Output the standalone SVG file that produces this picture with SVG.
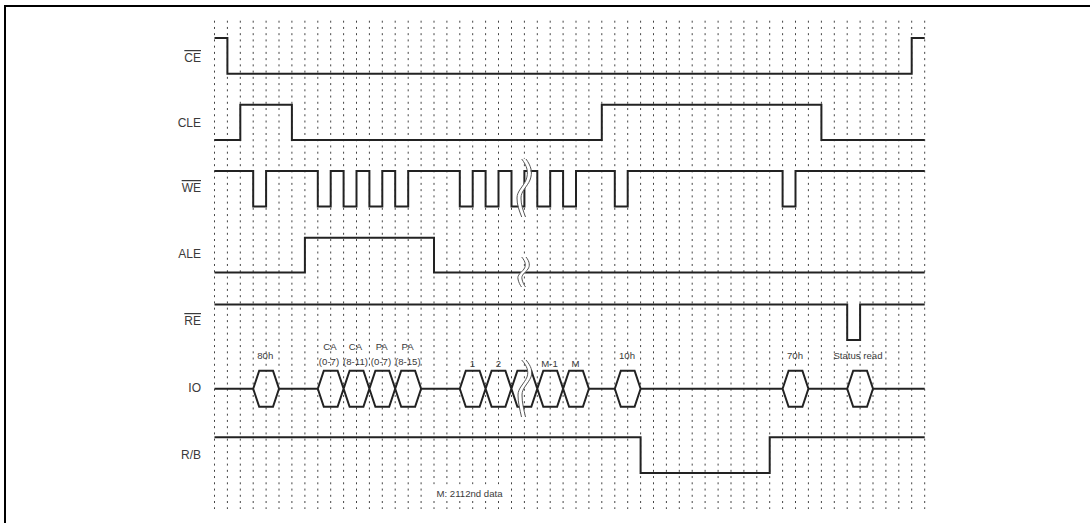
<svg xmlns="http://www.w3.org/2000/svg" width="1090" height="523" viewBox="0 0 1090 523">
<style>
text{font-family:"Liberation Sans",Arial,sans-serif;fill:#3a3a3a}
.l{font-size:12px;text-anchor:end}
.s{font-size:9.6px;text-anchor:middle}
.o{text-decoration:overline}
.sig{fill:none;stroke:#222;stroke-width:2}
.grid{stroke:#444;stroke-width:1;stroke-dasharray:2 4.238;stroke-dashoffset:0}
.brk{fill:none;stroke:#555;stroke-width:1}
.brkw{fill:none;stroke:#fff;stroke-width:3.5}
</style>
<rect width="1090" height="523" fill="#fff"/>
<rect x="5" y="6" width="1090" height="530" fill="none" stroke="#000" stroke-width="2"/>
<g id="grid" class="grid"><path d="M214.5 20.7V509M227.4 20.7V509M240.3 20.7V509M253.2 20.7V509M266.1 20.7V509M279 20.7V509M291.9 20.7V509M304.9 20.7V509M317.8 20.7V509M330.7 20.7V509M343.6 20.7V509M356.5 20.7V509M369.4 20.7V509M382.3 20.7V509M395.2 20.7V509M408.2 20.7V509M421.1 20.7V509M434 20.7V509M446.9 20.7V509M459.8 20.7V509M472.7 20.7V509M485.6 20.7V509M498.5 20.7V509M511.5 20.7V509M524.4 20.7V509M537.3 20.7V509M550.2 20.7V509M563.1 20.7V509M576 20.7V509M588.9 20.7V509M601.8 20.7V509M614.8 20.7V509M627.7 20.7V509M640.6 20.7V509M653.5 20.7V509M666.4 20.7V509M679.3 20.7V509M692.2 20.7V509M705.1 20.7V509M718.1 20.7V509M731 20.7V509M743.9 20.7V509M756.8 20.7V509M769.7 20.7V509M782.6 20.7V509M795.5 20.7V509M808.4 20.7V509M821.4 20.7V509M834.3 20.7V509M847.2 20.7V509M860.1 20.7V509M873 20.7V509M885.9 20.7V509M898.8 20.7V509M911.7 20.7V509M924.7 20.7V509"/></g>
<g id="connectors">
<path id="sig-ce" class="sig" d="M214.5 38H227.4V73.7H911.7V38H924.7"/>
<path id="sig-cle" class="sig" d="M214.5 140H240.3V104.7H291.9V140H601.8V104.7H821.4V140H924.7"/>
<path id="sig-we" class="sig" d="M214.5 171H253.2V206.5H266.1V171H317.8V206.5H330.7V171H343.6V206.5H356.5V171H369.4V206.5H382.3V171H395.2V206.5H408.2V171H459.8V206.5H472.7V171H485.6V206.5H498.5V171H511.5V206.5H524.4V171H537.3V206.5H550.2V171H563.1V206.5H576V171H614.8V206.5H627.7V171H782.6V206.5H795.5V171H924.7"/>
<path id="sig-ale" class="sig" d="M214.5 272.5H304.9V237.7H434V272.5H924.7"/>
<path id="sig-re" class="sig" d="M214.5 304.5H847.2V340H860.1V304.5H924.7"/>
<path id="sig-io" class="sig" d="M214.5 388.7H253.2L259.2 370.7H273L279 388.7L273 406.7H259.2L253.2 388.7M279 388.7H317.8L323.8 370.7H337.6L349.6 406.7H363.4L375.4 370.7H389.2L401.2 406.7H415.1L421.1 388.7L415.1 370.7H401.2L389.2 406.7H375.4L363.4 370.7H349.6L337.6 406.7H323.8L317.8 388.7M421.1 388.7H459.8L465.8 370.7H479.6L491.6 406.7H505.4L517.4 370.7H531.3L543.3 406.7H557.1L569.1 370.7H582.9L588.9 388.7L582.9 406.7H569.1L557.1 370.7H543.3L531.3 406.7H517.4L505.4 370.7H491.6L479.6 406.7H465.8L459.8 388.7M588.9 388.7H614.8L620.8 370.7H634.6L640.6 388.7L634.6 406.7H620.8L614.8 388.7M640.6 388.7H782.6L788.6 370.7H802.4L808.4 388.7L802.4 406.7H788.6L782.6 388.7M808.4 388.7H847.2L853.2 370.7H867L873 388.7L867 406.7H853.2L847.2 388.7M873 388.7H924.7"/>
<path id="sig-rb" class="sig" d="M214.5 437.3H640.6V473H769.7V437.3H924.7"/>
<g id="break-we"><path class="brkw" d="M524 159C529 166 531 172 528 180C525 187 519 191 519 198C519 205 521 210 523.5 217"/><path class="brk" d="M521.7 159C527 166 529 172 526 180C523 187 517 191 517 198C517 205 519 210 521.7 217"/><path class="brk" d="M526 159C531 166 533 172 530 180C527 187 521 191 521 198C521 205 523 210 525.5 217"/></g>
<g id="break-ale"><path class="brkw" d="M524 257C528 262 528 266 526 269C523 273 519 275 520 279C520.5 282 522 285 523.5 287"/><path class="brk" d="M521.7 257C526 262 526 266 524 269C521 273 517 275 518 279C518.5 282 520 285 521.5 287"/><path class="brk" d="M526 257C530 262 530 266 528 269C525 273 521 275 522 279C522.5 282 524 285 525.5 287"/></g>
<g id="break-io"><path class="brkw" d="M524 360C529 366 531 371 529 377C526 384 520 388 520 395C520 403 522 410 523.5 417"/><path class="brk" d="M521.7 360C527 366 529 371 527 377C524 384 518 388 518 395C518 403 520 410 521.5 417"/><path class="brk" d="M526 360C531 366 533 371 531 377C528 384 522 388 522 395C522 403 524 410 525.5 417"/></g>
</g>
<g id="node-ce"><text class="l o" x="201" y="62">CE</text></g>
<g id="node-cle"><text class="l" x="201" y="127">CLE</text></g>
<g id="node-we"><text class="l o" x="201" y="192">WE</text></g>
<g id="node-ale"><text class="l" x="201" y="258">ALE</text></g>
<g id="node-re"><text class="l o" x="201" y="325">RE</text></g>
<g id="node-io"><text class="l" x="201" y="392">IO</text></g>
<g id="node-rb"><text class="l" x="201" y="459">R/B</text></g>
<g id="labels">
<text class="s" x="265.3" y="359">80h</text>
<text class="s" x="330" y="350">CA</text><text class="s" x="329" y="365">(0-7)</text>
<text class="s" x="355.5" y="350">CA</text><text class="s" x="355.5" y="365">(8-11)</text>
<text class="s" x="381.7" y="350">PA</text><text class="s" x="381" y="365">(0-7)</text>
<text class="s" x="407.5" y="350">PA</text><text class="s" x="407.8" y="365">(8-15)</text>
<text class="s" x="472.5" y="366.5">1</text>
<text class="s" x="498.5" y="366.5">2</text>
<text class="s" x="549.5" y="366.5">M-1</text>
<text class="s" x="575.5" y="366.5">M</text>
<text class="s" x="627" y="359">10h</text>
<text class="s" x="795" y="359">70h</text>
<text class="s" x="858" y="359">Status read</text>
<rect x="428" y="484.5" width="79" height="16.5" fill="#fff"/>
<text class="s" x="469.5" y="497.3">M: 2112nd data</text>
</g>
</svg>
